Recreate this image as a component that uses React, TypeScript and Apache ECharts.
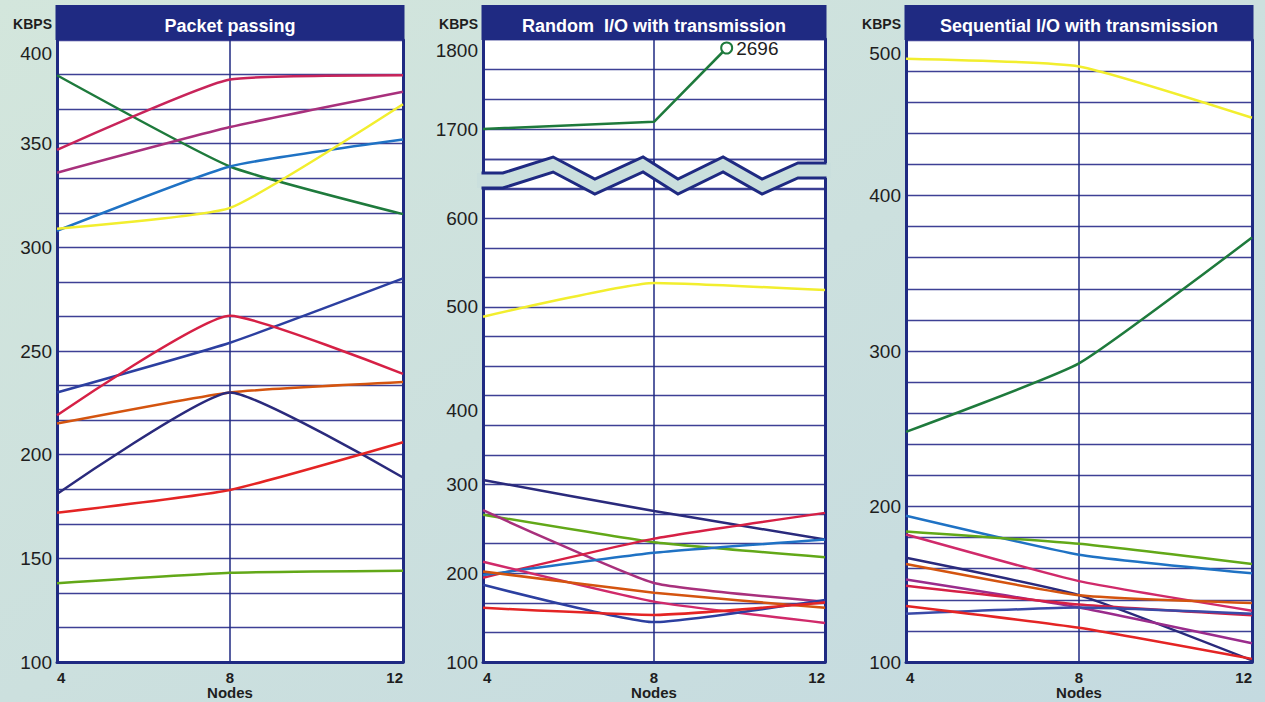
import React, { useEffect, useRef } from 'react';
import * as echarts from 'echarts';

// ---------------- DATA ----------------
const nodes = [4, 8, 12];

// Panel 1 : Packet passing (KBPS at 4, 8, 12 nodes)
const packetValues: number[][] = [
  [383, 339, 316],
  [347, 381, 383],
  [336, 358, 375],
  [308, 339, 352],
  [309, 319, 369],
  [230, 254, 285],
  [219, 267, 239],
  [215, 230, 235],
  [181, 230, 189],
  [172, 183, 206],
  [138, 143, 144],
];
const packetColors = ['#1e7a3c', '#c8245a', '#a8307c', '#1f72c4', '#f2ee2e', '#2c3fa0', '#d62045', '#d4540f', '#2a2a7c', '#e42424', '#62a818'];

// Panel 2 : Random I/O with transmission (lower part of the broken axis)
const randomValues: number[][] = [
  [489, 527, 519],
  [305, 270, 238],
  [266, 235, 218],
  [271, 189, 168],
  [195, 239, 268],
  [198, 223, 238],
  [213, 168, 144],
  [202, 178, 161],
  [187, 145, 170],
  [161, 153, 167],
];
const randomColors = ['#f2ee2e', '#2a2a7c', '#62a818', '#a8307c', '#d62045', '#1f72c4', '#d02a6a', '#d4540f', '#2c3fa0', '#e42424'];
// upper part of the broken axis: the green series leaves the scale towards 2696
const randomTopNodes = [4, 8, 9.7];
const randomTopValues = [1700, 1708, 1790];
const randomTopPeak = 2696;
const randomTopColor = '#1e7a3c';

// Panel 3 : Sequential I/O with transmission
const seqValues: number[][] = [
  [488, 483, 450],
  [248, 292, 373],
  [194, 169, 157],
  [184, 176, 163],
  [182, 152, 133],
  [167, 143, 101],
  [163, 143, 138],
  [153, 135, 112],
  [149, 137, 130],
  [131, 135, 131],
  [136, 122, 102],
];
const seqColors = ['#f2ee2e', '#1e7a3c', '#1f72c4', '#62a818', '#d02a6a', '#2a2a7c', '#d4540f', '#9a2c8c', '#d62045', '#3a4aa8', '#e42424'];

const titles = ['Packet passing', 'Random  I/O with transmission', 'Sequential I/O with transmission'];
const unitLabel = 'KBPS';
const axisName = 'Nodes';

// ---------------- STYLE / LAYOUT ----------------
const FONT = '"Liberation Sans", Arial, Helvetica, sans-serif';
const NAVY = '#1f2a82';
const GRIDLINE = '#3d4095';
const BG = '#cadfdd';
const TEXT = '#1e1e1e';

const P1 = { left: 57, width: 346, top: 40, height: 622 };
const P2U = { left: 483, width: 342, top: 39, height: 150 };
const P2L = { left: 483, width: 342, top: 159, height: 503 };
const P3 = { left: 906, width: 346, top: 40, height: 622 };

// zig-zag of the axis break (fractions of panel width, pixel y)
const zzFx = [0, 0.058, 0.205, 0.327, 0.468, 0.57, 0.702, 0.816, 0.921, 1];
const zzY = [173, 173, 157, 179, 157, 179, 157, 179, 163, 163];
const zzGap = 15;

function leftY(gridIndex: number, min: number, max: number, interval: number, every: number, shifts: Record<number, number>) {
  const rich: any = {};
  Object.keys(shifts).forEach((k) => {
    const s = shifts[Number(k)];
    rich['s' + k] = {
      fontSize: 19,
      fontFamily: FONT,
      color: TEXT,
      padding: s > 0 ? [2 * s, 0, 0, 0] : [0, 0, -2 * s, 0],
    };
  });
  return {
    type: 'value',
    gridIndex,
    position: 'left',
    min,
    max,
    interval,
    axisLine: { show: true, onZero: false, lineStyle: { color: NAVY, width: 3 } },
    axisTick: { show: false },
    axisLabel: {
      margin: 5,
      fontSize: 19,
      fontFamily: FONT,
      color: TEXT,
      showMinLabel: true,
      showMaxLabel: true,
      formatter: (v: number) => {
        const r = Math.round(v);
        if (Math.abs(v - r) > 0.01 || r % every !== 0) return '';
        if (shifts[r] !== undefined) return `{s${r}|${r}}`;
        return String(r);
      },
      rich,
    },
    splitLine: { show: true, lineStyle: { color: GRIDLINE, width: 1.3 } },
  };
}

function rightY(gridIndex: number, min: number, max: number) {
  return {
    type: 'value',
    gridIndex,
    position: 'right',
    min,
    max,
    axisLine: { show: true, onZero: false, lineStyle: { color: NAVY, width: 3 } },
    axisTick: { show: false },
    axisLabel: { show: false },
    splitLine: { show: false },
  };
}

function xAx(gridIndex: number, visible: boolean) {
  return {
    type: 'value',
    gridIndex,
    min: 4,
    max: 12,
    interval: 4,
    name: visible ? axisName : '',
    nameLocation: 'middle',
    nameGap: 23,
    nameMoveOverlap: false,
    nameTextStyle: { fontSize: 15, fontWeight: 'bold', fontFamily: FONT, color: TEXT },
    axisLine: { show: visible, onZero: false, lineStyle: { color: NAVY, width: 3 } },
    axisTick: { show: false },
    axisLabel: {
      show: visible,
      margin: 8,
      fontSize: 15,
      fontWeight: 'bold',
      fontFamily: FONT,
      color: TEXT,
      alignMinLabel: 'left',
      alignMaxLabel: 'right',
    },
    splitLine: { show: true, lineStyle: { color: NAVY, width: 1.5 } },
  };
}

function lineSeries(values: number[][], colors: string[], prefix: string, axisIndex: number) {
  return values.map((row, i) => ({
    type: 'line',
    name: `${prefix} ${i + 1}`,
    xAxisIndex: axisIndex,
    yAxisIndex: axisIndex,
    data: nodes.map((n, j) => [n, row[j]]),
    symbol: 'none',
    smooth: 0.15,
    lineStyle: { color: colors[i], width: 2.5 },
    z: 3,
  }));
}

function buildOption() {
  const grids = [P1, P2U, P2L, P3].map((p) => ({
    ...p,
    show: true,
    backgroundColor: '#ffffff',
    borderWidth: 0,
    containLabel: false,
    outerBoundsMode: 'none',
  }));

  const yAxes = [
    leftY(0, 100, 400, 50 / 3, 50, { 400: 13 }),
    leftY(1, 4900 / 3, 1800, 100 / 3, 100, { 1800: 11 }),
    leftY(2, 100, 2000 / 3, 100 / 3, 100, { 400: 15 }),
    leftY(3, 100, 500, 20, 100, { 500: 13 }),
    rightY(0, 100, 400),
    rightY(1, 4900 / 3, 1800),
    rightY(2, 100, 2000 / 3),
    rightY(3, 100, 500),
  ];

  const xAxes = [xAx(0, true), xAx(1, false), xAx(2, true), xAx(3, true)];

  const topData: any[] = randomTopNodes.map((n, i) => [n, randomTopValues[i]]);
  const last = topData.length - 1;
  topData[last] = {
    value: topData[last],
    symbol: 'circle',
    symbolSize: 11,
    itemStyle: { color: '#ffffff', borderColor: randomTopColor, borderWidth: 2 },
    label: {
      show: true,
      position: 'right',
      distance: 3,
      formatter: String(randomTopPeak),
      fontSize: 19,
      fontFamily: FONT,
      color: TEXT,
    },
  };

  const series: any[] = [
    ...lineSeries(packetValues, packetColors, 'Packet passing', 0),
    {
      type: 'line',
      name: 'Random I/O top',
      xAxisIndex: 1,
      yAxisIndex: 1,
      data: topData,
      symbol: 'none',
      showSymbol: true,
      smooth: 0,
      lineStyle: { color: randomTopColor, width: 2.5 },
      z: 3,
    },
    ...lineSeries(randomValues, randomColors, 'Random I/O', 2),
    ...lineSeries(seqValues, seqColors, 'Sequential I/O', 3),
  ];

  const panels = [P1, P2U, P3];
  const graphic: any[] = [];
  panels.forEach((p) => {
    graphic.push({
      type: 'rect',
      shape: { x: p.left - 1.5, y: 5, width: p.width + 3, height: 35 },
      style: { fill: NAVY },
      z: 50,
    });
    graphic.push({
      type: 'text',
      x: p.left - 5,
      y: 24,
      style: {
        text: unitLabel,
        fontSize: 14,
        fontWeight: 'bold',
        fontFamily: FONT,
        fill: TEXT,
        align: 'right',
        verticalAlign: 'middle',
      },
      z: 50,
    });
  });

  // axis break band
  const L = P2U.left;
  const W = P2U.width;
  const upper = zzFx.map((f, i) => [L + f * W, zzY[i]]);
  const lower = zzFx.map((f, i) => [L + f * W, zzY[i] + zzGap]);
  const bandUpper = upper.map((p, i) => [i === 0 ? p[0] - 6 : i === upper.length - 1 ? p[0] + 6 : p[0], p[1]]);
  const bandLower = lower.map((p, i) => [i === 0 ? p[0] - 6 : i === lower.length - 1 ? p[0] + 6 : p[0], p[1]]);
  graphic.push({
    type: 'polygon',
    shape: { points: [...bandUpper, ...bandLower.slice().reverse()] },
    style: { fill: BG },
    z: 40,
  });
  [upper, lower].forEach((pts) => {
    const q = pts.map((p, i) => [i === 0 ? p[0] - 1.5 : i === pts.length - 1 ? p[0] + 1.5 : p[0], p[1]]);
    graphic.push({
      type: 'polyline',
      shape: { points: q },
      style: { stroke: NAVY, lineWidth: 3, fill: null, lineJoin: 'miter' },
      z: 41,
    });
  });

  const title = panels.map((p, i) => ({
    text: titles[i],
    left: p.left + p.width / 2,
    top: 15,
    padding: 0,
    textAlign: 'center',
    z: 60,
    textStyle: { color: '#ffffff', fontSize: 18, fontWeight: 'bold', fontFamily: FONT, lineHeight: 22 },
  }));

  return {
    animation: false,
    backgroundColor: {
      type: 'linear',
      x: 0,
      y: 0,
      x2: 1,
      y2: 1,
      colorStops: [
        { offset: 0, color: '#d3e6dc' },
        { offset: 0.5, color: '#cce0de' },
        { offset: 1, color: '#c4dae0' },
      ],
    },
    title,
    grid: grids,
    xAxis: xAxes,
    yAxis: yAxes,
    series,
    graphic,
  };
}

export default function App() {
  const ref = useRef<HTMLDivElement>(null);
  useEffect(() => {
    if (!ref.current) return;
    const chart = echarts.init(ref.current, null, { renderer: 'svg', width: 1265, height: 702 });
    chart.setOption(buildOption() as any);
    return () => chart.dispose();
  }, []);
  return <div ref={ref} style={{ position: 'fixed', left: 0, top: 0, width: 1265, height: 702 }} />;
}
